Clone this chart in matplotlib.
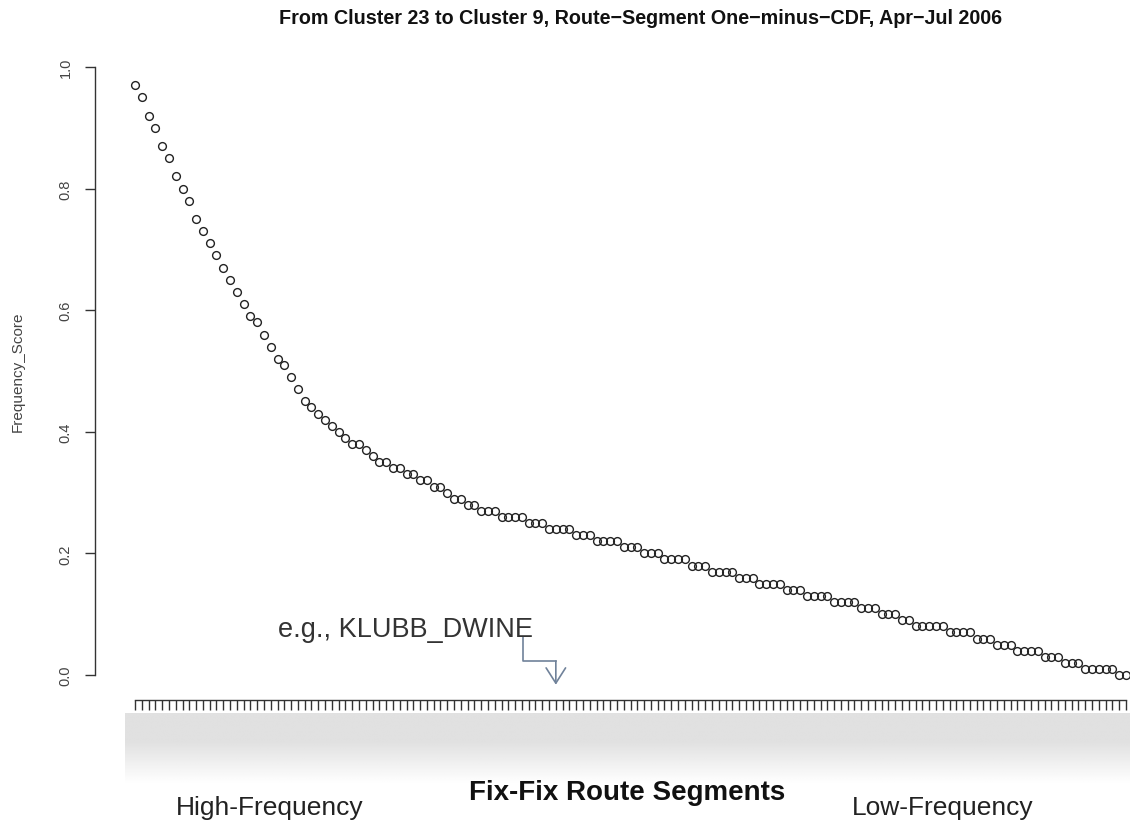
import numpy as np
import matplotlib
matplotlib.use("Agg")
import matplotlib.pyplot as plt

# one-minus-CDF score per fix-fix route segment, ordered high -> low frequency
scores = [
    0.97, 0.95, 0.92, 0.90, 0.87, 0.85, 0.82, 0.80, 0.78, 0.75,
    0.73, 0.71, 0.69, 0.67, 0.65, 0.63, 0.61, 0.59, 0.58, 0.56,
    0.54, 0.52, 0.51, 0.49, 0.47, 0.45, 0.44, 0.43, 0.42, 0.41,
    0.40, 0.39, 0.38, 0.38, 0.37, 0.36, 0.35, 0.35, 0.34, 0.34,
    0.33, 0.33, 0.32, 0.32, 0.31, 0.31, 0.30, 0.29, 0.29, 0.28,
    0.28, 0.27, 0.27, 0.27, 0.26, 0.26, 0.26, 0.26, 0.25, 0.25,
    0.25, 0.24, 0.24, 0.24, 0.24, 0.23, 0.23, 0.23, 0.22, 0.22,
    0.22, 0.22, 0.21, 0.21, 0.21, 0.20, 0.20, 0.20, 0.19, 0.19,
    0.19, 0.19, 0.18, 0.18, 0.18, 0.17, 0.17, 0.17, 0.17, 0.16,
    0.16, 0.16, 0.15, 0.15, 0.15, 0.15, 0.14, 0.14, 0.14, 0.13,
    0.13, 0.13, 0.13, 0.12, 0.12, 0.12, 0.12, 0.11, 0.11, 0.11,
    0.10, 0.10, 0.10, 0.09, 0.09, 0.08, 0.08, 0.08, 0.08, 0.08,
    0.07, 0.07, 0.07, 0.07, 0.06, 0.06, 0.06, 0.05, 0.05, 0.05,
    0.04, 0.04, 0.04, 0.04, 0.03, 0.03, 0.03, 0.02, 0.02, 0.02,
    0.01, 0.01, 0.01, 0.01, 0.01, 0.00, 0.00,
]
y_ticks = [0.0, 0.2, 0.4, 0.6, 0.8, 1.0]
y_ticklabels = ["0.0", "0.2", "0.4", "0.6", "0.8", "1.0"]
example_segment = 62
example_label = "e.g., KLUBB_DWINE"

title = "From Cluster 23 to Cluster 9, Route\u2212Segment One\u2212minus\u2212CDF, Apr\u2212Jul 2006"

plt.rcParams["font.family"] = ["Liberation Sans", "DejaVu Sans"]

W, H = 1130, 829
fig = plt.figure(figsize=(W / 100, H / 100), dpi=100)
fig.patch.set_facecolor("white")

n = len(scores)
idx = np.arange(n)

# axes placed so index 0..n-1 spans the tick row, 0..1 spans the y axis
x0, x1 = 135, 1126
y_top, y_bot = 68, 676
ax = fig.add_axes([x0 / W, 1 - y_bot / H, (x1 - x0) / W, (y_bot - y_top) / H])
ax.set_xlim(0, n - 1)
ax.set_ylim(0, 1)
ax.patch.set_alpha(0)

ax.plot(idx, scores, linestyle="none", marker="o", markersize=5.6,
        markerfacecolor="none", markeredgecolor="#222222", markeredgewidth=1.0,
        clip_on=False, zorder=3)

for side in ("top", "right"):
    ax.spines[side].set_visible(False)
ax.spines["left"].set_position(("outward", 29))
ax.spines["left"].set_bounds(0, 1)
ax.spines["bottom"].set_position(("outward", 18))
ax.spines["bottom"].set_bounds(0, n - 1)
for side in ("left", "bottom"):
    ax.spines[side].set_color("#333333")
    ax.spines[side].set_linewidth(1.0)

ax.set_yticks(y_ticks)
ax.set_yticklabels(y_ticklabels, rotation=90, va="center", fontsize=10.5, color="#444444")
ax.tick_params(axis="y", length=7, width=1.0, color="#333333", pad=9)
ax.set_xticks(idx)
ax.set_xticklabels([])
ax.tick_params(axis="x", length=7, width=1.0, color="#333333")

ax.set_ylabel("Frequency_Score", fontsize=11, color="#444444", labelpad=24)

# blurred tick-label band under the x axis
band = fig.add_axes([125 / W, 1 - 785 / H, (1130 - 125) / W, (785 - 714) / H])
rows = np.linspace(0, 1, 80)
shade = np.where(rows < 0.4, 0.88, 0.88 + (rows - 0.4) / 0.6 * 0.12)
band.imshow(np.tile(shade[:, None], (1, 10)), cmap="gray", vmin=0, vmax=1,
            aspect="auto", interpolation="bilinear")
band.axis("off")

# annotation with elbow connector
ann_color = "#70829a"
elbow_y = 0.023
text_x = 21.0
ax.text(text_x, 0.076, example_label, fontsize=19.5, color="#333333",
        ha="left", va="center")
ax.plot([57.2, 57.2, example_segment], [0.062, elbow_y, elbow_y],
        color=ann_color, lw=1.2, clip_on=False)
ax.annotate("", xy=(example_segment, -0.016), xytext=(example_segment, elbow_y),
            arrowprops=dict(arrowstyle="->,head_length=1.1,head_width=0.7",
                            color=ann_color, lw=1.2, shrinkA=0, shrinkB=0),
            annotation_clip=False)

fig.text(641 / W, 1 - 19 / H, title, ha="center", va="center",
         fontsize=14.2, fontweight="bold", color="#111111")
fig.text(627 / W, 1 - 793 / H, "Fix-Fix Route Segments", ha="center", va="center",
         fontsize=20, fontweight="bold", color="#111111")
fig.text(270 / W, 1 - 808 / H, "High-Frequency", ha="center", va="center",
         fontsize=19, color="#222222")
fig.text(943 / W, 1 - 808 / H, "Low-Frequency", ha="center", va="center",
         fontsize=19, color="#222222")

fig.savefig("out.png", dpi=100)
